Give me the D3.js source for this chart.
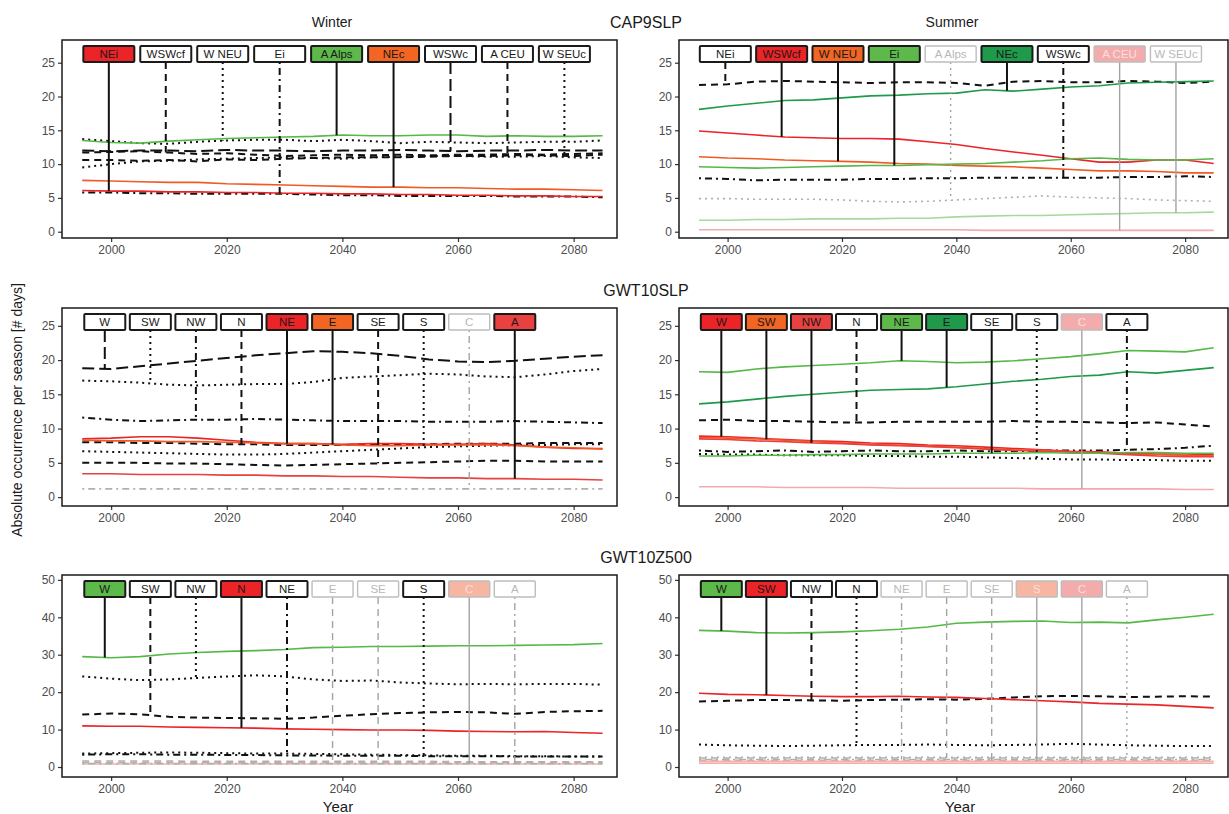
<!DOCTYPE html>
<html>
<head>
<meta charset="utf-8">
<script src="https://cdn.jsdelivr.net/npm/d3@7"></script>
<style>
  body { margin: 0; background: #fff; }
  svg text { font-family: "Liberation Sans", Arial, sans-serif; }
</style>
</head>
<body>
<svg width="1229" height="814"></svg>
<script>
// ---- data ----
const years = [1995, 2000, 2005, 2010, 2015, 2020, 2025, 2030, 2035, 2040, 2045, 2050, 2055, 2060, 2065, 2070, 2075, 2080, 2085];
const xTicks = [2000, 2020, 2040, 2060, 2080];
const yTicksSlp = [0, 5, 10, 15, 20, 25];
const yTicksZ500 = [0, 10, 20, 30, 40, 50];

const cap9Types = ['NEi', 'WSWcf', 'W NEU', 'Ei', 'A Alps', 'NEc', 'WSWc', 'A CEU', 'W SEUc'];
const gwtTypes = ['W', 'SW', 'NW', 'N', 'NE', 'E', 'SE', 'S', 'C', 'A'];

// CAP9SLP winter, one row per weather type
const cap9Winter = [
  [6.1, 6.0, 6.0, 5.9, 5.9, 5.8, 5.8, 5.7, 5.7, 5.6, 5.6, 5.5, 5.5, 5.4, 5.4, 5.3, 5.3, 5.2, 5.2],
  [11.7, 11.8, 11.9, 11.7, 11.5, 11.6, 11.4, 11.2, 11.3, 11.4, 11.3, 11.4, 11.3, 11.4, 11.4, 11.5, 11.4, 11.5, 11.6],
  [13.7, 13.4, 13.1, 13.0, 13.3, 13.5, 13.6, 13.6, 13.4, 13.6, 13.4, 13.1, 13.3, 13.2, 13.1, 13.2, 13.3, 13.3, 13.5],
  [5.8, 5.8, 5.7, 5.7, 5.6, 5.6, 5.6, 5.6, 5.5, 5.4, 5.4, 5.3, 5.3, 5.3, 5.3, 5.2, 5.2, 5.2, 5.1],
  [13.5, 13.2, 13.1, 13.4, 13.6, 13.8, 13.9, 14.0, 14.1, 14.3, 14.2, 14.2, 14.3, 14.3, 14.1, 14.2, 14.1, 14.1, 14.2],
  [7.6, 7.5, 7.4, 7.3, 7.3, 7.1, 7.0, 6.9, 6.8, 6.7, 6.6, 6.6, 6.5, 6.5, 6.4, 6.3, 6.3, 6.2, 6.1],
  [12.0, 11.9, 12.0, 12.0, 11.9, 12.1, 12.0, 12.0, 11.9, 12.0, 12.0, 12.1, 12.0, 11.9, 12.0, 12.0, 12.1, 12.0, 12.0],
  [10.6, 10.6, 10.5, 10.6, 10.4, 10.7, 10.6, 10.8, 10.9, 11.0, 11.0, 11.0, 11.1, 11.2, 11.2, 11.3, 11.3, 11.2, 11.4],
  [9.5, 10.0, 10.4, 10.5, 10.7, 10.8, 10.9, 11.0, 10.9, 10.8, 11.0, 11.1, 11.2, 11.2, 11.1, 11.1, 11.2, 11.0, 10.9]
];
const cap9Summer = [
  [21.7, 21.8, 22.2, 22.3, 22.2, 22.1, 22.0, 22.1, 22.1, 22.0, 21.6, 22.2, 22.3, 22.1, 22.1, 22.3, 22.2, 22.0, 22.2],
  [14.9, 14.6, 14.3, 14.0, 13.9, 13.8, 13.8, 13.7, 13.3, 12.9, 12.3, 11.8, 11.3, 10.8, 10.3, 10.3, 10.6, 10.6, 10.1],
  [11.1, 10.9, 10.8, 10.6, 10.5, 10.4, 10.3, 10.1, 10.0, 9.8, 9.7, 9.6, 9.4, 9.2, 9.0, 9.0, 8.9, 8.7, 8.7],
  [9.6, 9.5, 9.4, 9.5, 9.6, 9.7, 9.8, 9.8, 9.9, 10.0, 10.1, 10.3, 10.5, 10.8, 10.9, 10.7, 10.6, 10.6, 10.8],
  [4.9, 4.9, 4.8, 4.8, 4.8, 4.7, 4.5, 4.4, 4.5, 4.7, 4.9, 5.1, 5.3, 5.1, 5.0, 4.9, 4.7, 4.6, 4.5],
  [18.1, 18.6, 19.0, 19.4, 19.5, 19.8, 20.1, 20.2, 20.4, 20.5, 21.0, 20.8, 21.1, 21.4, 21.6, 22.0, 22.1, 22.2, 22.3],
  [7.9, 7.8, 7.6, 7.7, 7.7, 7.7, 7.8, 7.8, 7.9, 7.9, 8.0, 8.0, 8.0, 8.0, 8.0, 8.1, 8.1, 8.2, 8.1],
  [0.3, 0.3, 0.3, 0.3, 0.3, 0.3, 0.3, 0.3, 0.3, 0.3, 0.2, 0.2, 0.2, 0.2, 0.2, 0.2, 0.2, 0.2, 0.2],
  [1.7, 1.7, 1.8, 1.8, 1.9, 1.9, 1.9, 2.0, 2.0, 2.2, 2.3, 2.4, 2.4, 2.5, 2.6, 2.7, 2.8, 2.8, 2.9]
];
const gwtSlpWinter = [
  [18.8, 18.7, 19.1, 19.5, 19.9, 20.3, 20.7, 21.0, 21.3, 21.2, 21.0, 20.6, 20.1, 19.8, 19.7, 19.9, 20.2, 20.5, 20.7],
  [17.0, 16.9, 16.7, 16.4, 16.3, 16.4, 16.5, 16.5, 16.8, 17.4, 17.6, 17.8, 18.0, 17.9, 17.6, 17.5, 17.9, 18.4, 18.7],
  [11.6, 11.3, 11.1, 11.2, 11.3, 11.3, 11.4, 11.3, 11.2, 11.1, 11.1, 11.1, 11.0, 11.0, 11.0, 11.1, 11.0, 10.9, 10.8],
  [8.0, 8.0, 7.9, 7.9, 7.8, 7.7, 7.7, 7.6, 7.6, 7.6, 7.7, 7.7, 7.7, 7.8, 7.8, 7.8, 7.9, 7.9, 7.9],
  [8.5, 8.6, 8.8, 8.8, 8.6, 8.3, 8.0, 7.8, 7.8, 7.7, 7.8, 7.8, 7.7, 7.7, 7.8, 7.6, 7.3, 7.1, 7.1],
  [8.3, 8.2, 8.2, 8.1, 8.1, 8.0, 7.9, 7.8, 7.8, 7.6, 7.5, 7.5, 7.6, 7.6, 7.6, 7.5, 7.3, 7.2, 7.0],
  [5.0, 5.0, 5.0, 4.9, 4.9, 4.8, 4.7, 4.6, 4.7, 4.8, 4.9, 5.0, 5.1, 5.2, 5.3, 5.3, 5.2, 5.2, 5.2],
  [6.7, 6.6, 6.5, 6.4, 6.3, 6.2, 6.2, 6.3, 6.5, 6.7, 6.9, 7.1, 7.3, 7.4, 7.5, 7.6, 7.6, 7.7, 7.7],
  [1.2, 1.2, 1.2, 1.2, 1.2, 1.2, 1.2, 1.2, 1.2, 1.2, 1.2, 1.2, 1.2, 1.2, 1.2, 1.2, 1.2, 1.2, 1.2],
  [3.4, 3.4, 3.3, 3.3, 3.3, 3.2, 3.2, 3.1, 3.1, 3.0, 3.0, 2.9, 2.8, 2.8, 2.7, 2.7, 2.6, 2.6, 2.5]
];
const gwtSlpSummer = [
  [8.9, 8.8, 8.6, 8.4, 8.2, 8.1, 7.9, 7.8, 7.6, 7.5, 7.3, 7.1, 6.9, 6.7, 6.6, 6.4, 6.3, 6.3, 6.2],
  [8.7, 8.6, 8.5, 8.3, 8.1, 7.9, 7.7, 7.6, 7.4, 7.3, 7.1, 6.9, 6.8, 6.6, 6.5, 6.3, 6.2, 6.1, 6.0],
  [8.5, 8.4, 8.2, 8.1, 7.9, 7.8, 7.6, 7.5, 7.4, 7.2, 7.0, 6.8, 6.7, 6.6, 6.4, 6.2, 6.0, 5.9, 5.9],
  [11.2, 11.3, 11.1, 11.1, 11.0, 10.9, 10.9, 11.0, 11.0, 11.0, 11.0, 11.1, 11.0, 11.0, 10.9, 10.8, 10.9, 10.6, 10.3],
  [18.3, 18.2, 18.7, 19.0, 19.2, 19.4, 19.6, 19.9, 19.8, 19.6, 19.7, 19.9, 20.2, 20.5, 20.9, 21.4, 21.3, 21.2, 21.8],
  [13.6, 13.9, 14.3, 14.7, 15.0, 15.3, 15.6, 15.7, 15.8, 16.1, 16.5, 16.9, 17.2, 17.6, 17.8, 18.3, 18.1, 18.5, 18.9],
  [6.0, 6.0, 6.1, 6.1, 6.2, 6.2, 6.3, 6.3, 6.3, 6.4, 6.4, 6.4, 6.5, 6.4, 6.4, 6.5, 6.5, 6.4, 6.4],
  [6.3, 6.2, 6.2, 6.1, 6.1, 6.1, 6.0, 6.0, 5.9, 5.9, 5.8, 5.7, 5.6, 5.5, 5.5, 5.4, 5.4, 5.3, 5.3],
  [1.5, 1.5, 1.5, 1.4, 1.4, 1.4, 1.4, 1.3, 1.3, 1.3, 1.3, 1.3, 1.2, 1.2, 1.2, 1.2, 1.2, 1.1, 1.1],
  [6.8, 6.6, 6.7, 6.8, 6.6, 6.7, 6.8, 6.7, 6.7, 6.8, 6.7, 6.7, 6.8, 6.8, 6.8, 6.9, 7.0, 7.2, 7.5]
];
const gwtZ500Winter = [
  [29.5, 29.2, 29.5, 30.2, 30.6, 30.9, 31.1, 31.4, 31.9, 32.0, 32.2, 32.2, 32.3, 32.4, 32.4, 32.5, 32.6, 32.7, 33.0],
  [14.0, 14.3, 14.1, 13.4, 13.2, 13.1, 13.0, 12.9, 13.2, 13.7, 14.1, 14.4, 14.6, 14.7, 14.6, 14.2, 14.7, 14.9, 15.0],
  [24.2, 23.6, 23.2, 23.4, 23.8, 24.2, 24.5, 24.2, 23.4, 23.0, 23.1, 22.6, 22.3, 22.1, 22.2, 22.1, 22.2, 22.2, 22.0],
  [11.0, 10.9, 10.9, 10.7, 10.6, 10.5, 10.4, 10.2, 10.1, 10.0, 9.9, 9.9, 9.8, 9.6, 9.5, 9.4, 9.5, 9.2, 9.0],
  [3.3, 3.4, 3.4, 3.3, 3.3, 3.2, 3.2, 3.1, 3.1, 3.0, 3.0, 3.0, 2.9, 2.9, 2.9, 2.8, 2.8, 2.8, 2.8],
  [1.6, 1.6, 1.6, 1.6, 1.5, 1.5, 1.5, 1.5, 1.5, 1.5, 1.5, 1.5, 1.5, 1.4, 1.4, 1.4, 1.4, 1.4, 1.4],
  [1.2, 1.2, 1.2, 1.2, 1.2, 1.1, 1.1, 1.1, 1.1, 1.1, 1.1, 1.1, 1.1, 1.1, 1.1, 1.1, 1.1, 1.1, 1.1],
  [3.6, 3.7, 3.8, 3.9, 3.8, 3.7, 3.6, 3.6, 3.5, 3.4, 3.3, 3.2, 3.1, 3.0, 3.0, 2.9, 2.9, 2.8, 2.8],
  [0.8, 0.8, 0.8, 0.8, 0.8, 0.8, 0.8, 0.8, 0.8, 0.8, 0.8, 0.8, 0.8, 0.8, 0.8, 0.8, 0.8, 0.8, 0.8],
  [0.9, 0.9, 0.9, 0.9, 0.9, 0.9, 0.9, 0.9, 0.9, 0.9, 0.9, 0.9, 0.9, 0.9, 0.9, 0.9, 0.9, 0.9, 0.9]
];
const gwtZ500Summer = [
  [36.5, 36.3, 35.9, 35.8, 35.9, 36.1, 36.4, 36.8, 37.4, 38.4, 38.7, 38.9, 39.0, 38.6, 38.7, 38.5, 39.3, 40.0, 40.8],
  [19.7, 19.4, 19.3, 19.1, 18.9, 18.8, 18.8, 18.9, 18.7, 18.6, 18.3, 18.0, 17.7, 17.4, 17.0, 16.8, 16.6, 16.2, 15.8],
  [17.5, 17.7, 17.9, 17.9, 17.8, 17.7, 17.9, 18.0, 18.1, 18.0, 18.2, 18.6, 18.9, 19.0, 18.9, 18.7, 18.8, 18.9, 18.8],
  [6.0, 5.8, 5.7, 5.6, 5.7, 5.8, 5.9, 5.9, 6.0, 5.9, 5.8, 5.9, 6.0, 6.2, 6.0, 5.8, 5.7, 5.6, 5.6],
  [2.0, 2.0, 2.0, 2.0, 2.0, 2.0, 2.0, 2.0, 2.0, 2.0, 2.0, 2.0, 2.0, 2.0, 2.0, 2.0, 2.0, 2.0, 2.0],
  [2.4, 2.4, 2.4, 2.4, 2.4, 2.4, 2.4, 2.4, 2.4, 2.4, 2.4, 2.4, 2.4, 2.4, 2.4, 2.4, 2.4, 2.4, 2.4],
  [1.8, 1.8, 1.8, 1.8, 1.8, 1.8, 1.8, 1.8, 1.8, 1.8, 1.8, 1.8, 1.8, 1.8, 1.8, 1.8, 1.8, 1.8, 1.8],
  [1.5, 1.5, 1.5, 1.5, 1.5, 1.5, 1.5, 1.5, 1.5, 1.5, 1.5, 1.5, 1.5, 1.5, 1.5, 1.5, 1.5, 1.5, 1.5],
  [1.0, 1.0, 1.0, 1.0, 1.0, 1.0, 1.0, 1.0, 1.0, 1.0, 1.0, 1.0, 1.0, 1.0, 1.0, 1.0, 1.0, 1.0, 1.0],
  [2.6, 2.6, 2.6, 2.6, 2.6, 2.6, 2.6, 2.6, 2.6, 2.6, 2.6, 2.6, 2.6, 2.6, 2.6, 2.6, 2.6, 2.6, 2.6]
];

// ---- looks (one code per weather type, same order as the type lists) ----
const cap9WinterLook = ['red', 'dashed', 'dotted', 'dotdash', 'green', 'orange', 'longdash', 'dashed', 'dotted'];
const cap9SummerLook = ['dashed', 'red', 'orange', 'green', 'fDotted', 'dkgreen', 'dotdash', 'fPink', 'fLtGreen'];
const slpWinterLook = ['longdash', 'dotted', 'dotdash', 'dashed', 'red', 'orange', 'dashed', 'dotted', 'fDotdash', 'red2'];
const slpSummerLook = ['red', 'orange', 'red2', 'dashed', 'green', 'dkgreen', 'greenW', 'dotted', 'fPink', 'dotdash'];
const z500WinterLook = ['green', 'dashed', 'dotted', 'red', 'dotdash', 'fDashed', 'fDashed', 'dotted', 'fSalmon', 'fDotdash'];
const z500SummerLook = ['green', 'red', 'dashed', 'dotted', 'fDotdash', 'fDashed', 'fDashed', 'fSalmon', 'fPink', 'fDotted'];

const dashes = {
  solid: null, dashed: '7,5', longdash: '12,5', dotted: '2,4', dotdash: '2,4,7,4'
};
const looks = {
  red:      { line: '#ec2327', fill: '#ec2327', dash: 'solid', kind: 'colour' },
  red2:     { line: '#e8413f', fill: '#e8413f', dash: 'solid', kind: 'colour' },
  orange:   { line: '#f15a24', fill: '#f26522', dash: 'solid', kind: 'colour' },
  green:    { line: '#55b848', fill: '#5cb94a', dash: 'solid', kind: 'colour' },
  dkgreen:  { line: '#1f9a4b', fill: '#1f9a4b', dash: 'solid', kind: 'colour' },
  greenW:   { line: '#55b848', fill: '#ffffff', dash: 'solid', kind: 'colour' },
  dashed:   { line: '#111', fill: '#ffffff', dash: 'dashed', kind: 'black' },
  longdash: { line: '#111', fill: '#ffffff', dash: 'longdash', kind: 'black' },
  dotted:   { line: '#111', fill: '#ffffff', dash: 'dotted', kind: 'black' },
  dotdash:  { line: '#111', fill: '#ffffff', dash: 'dotdash', kind: 'black' },
  fDashed:  { line: '#b0b0b0', fill: '#ffffff', dash: 'dashed', kind: 'faded' },
  fDotted:  { line: '#b0b0b0', fill: '#ffffff', dash: 'dotted', kind: 'faded' },
  fDotdash: { line: '#b0b0b0', fill: '#ffffff', dash: 'dotdash', kind: 'faded' },
  fPink:    { line: '#f4a9aa', fill: '#f4abac', dash: 'solid', kind: 'faded' },
  fSalmon:  { line: '#f4b29e', fill: '#f6b6a2', dash: 'solid', kind: 'faded' },
  fLtGreen: { line: '#a7d99c', fill: '#ffffff', dash: 'solid', kind: 'faded' }
};

const svg = d3.select('svg');
const xDomain = [1991.5, 2087.5];
const cols = [[62, 617], [679, 1228]];

const render = (types, values, lookCodes, col, top, bottom, yDomain, yTicks) => {
  const [x0, x1] = cols[col];
  const xScale = d3.scaleLinear().domain(xDomain).range([x0, x1]);
  const yScale = d3.scaleLinear().domain(yDomain).range([bottom, top]);
  const g = svg.append('g');

  const xAxisG = g.append('g')
    .attr('transform', `translate(0,${bottom})`)
    .call(d3.axisBottom(xScale).tickValues(xTicks).tickFormat(d3.format('d')).tickSize(4).tickPadding(3));
  const yAxisG = g.append('g')
    .attr('transform', `translate(${x0},0)`)
    .call(d3.axisLeft(yScale).tickValues(yTicks).tickSize(4).tickPadding(3));
  [xAxisG, yAxisG].forEach(a => {
    a.select('.domain').remove();
    a.selectAll('line').attr('stroke', '#333').attr('stroke-width', 1.2);
    a.selectAll('text').attr('font-size', 12).attr('fill', '#4d4d4d');
  });

  const line = d3.line().x((d, i) => xScale(years[i])).y(d => yScale(d));
  const order = d3.range(types.length).sort((a, b) => {
    const rank = k => ({ faded: 0, black: 1, colour: 2 })[looks[lookCodes[k]].kind];
    return rank(a) - rank(b);
  });
  g.selectAll('path.series').data(order).enter().append('path')
    .attr('class', 'series')
    .attr('d', k => line(values[k]))
    .attr('fill', 'none')
    .attr('stroke', k => looks[lookCodes[k]].line)
    .attr('stroke-width', k => looks[lookCodes[k]].kind === 'black' ? 2 : 1.6)
    .attr('stroke-dasharray', k => dashes[looks[lookCodes[k]].dash]);

  // labels with connectors down to their series
  const n = types.length;
  const start = n === 9 ? 1999.6 : 1998.9;
  const step = n === 9 ? 9.85 : 7.88;
  const boxW = n === 9 ? 51 : 41;
  const boxTop = top + 6, boxH = 16;
  types.forEach((t, k) => {
    const L = looks[lookCodes[k]];
    const yr = start + k * step;
    const cx = xScale(yr);
    const v = d3.scaleLinear().domain(years).range(values[k])(yr);
    const faded = L.kind === 'faded';
    g.append('line')
      .attr('x1', cx).attr('x2', cx)
      .attr('y1', boxTop + boxH).attr('y2', yScale(v))
      .attr('stroke', faded ? '#a3a3a3' : '#111')
      .attr('stroke-width', faded ? 1.4 : 2)
      .attr('stroke-dasharray', L.kind === 'colour' ? null : dashes[L.dash]);
    g.append('rect')
      .attr('x', cx - boxW / 2).attr('y', boxTop)
      .attr('width', boxW).attr('height', boxH)
      .attr('rx', 1)
      .attr('fill', L.fill)
      .attr('stroke', faded ? '#bdbdbd' : '#1a1a1a')
      .attr('stroke-width', faded ? 1.4 : 2);
    g.append('text')
      .attr('x', cx).attr('y', boxTop + boxH / 2)
      .attr('dy', '0.36em')
      .attr('text-anchor', 'middle')
      .attr('font-size', 11.5)
      .attr('fill', faded ? (L.fill === '#ffffff' ? '#b8b8b8' : '#f8e0dc') : '#1a1a1a')
      .text(t);
  });

  g.append('rect')
    .attr('x', x0).attr('y', top)
    .attr('width', x1 - x0).attr('height', bottom - top)
    .attr('fill', 'none').attr('stroke', '#1a1a1a').attr('stroke-width', 1.5);
};

const rows = [
  { top: 40, bottom: 238, dom: [-0.93, 28.36], ticks: yTicksSlp, types: cap9Types, w: cap9Winter, s: cap9Summer, lw: cap9WinterLook, ls: cap9SummerLook },
  { top: 308, bottom: 506, dom: [-1.3, 27.6], ticks: yTicksSlp, types: gwtTypes, w: gwtSlpWinter, s: gwtSlpSummer, lw: slpWinterLook, ls: slpSummerLook },
  { top: 575, bottom: 777, dom: [-2.67, 51.3], ticks: yTicksZ500, types: gwtTypes, w: gwtZ500Winter, s: gwtZ500Summer, lw: z500WinterLook, ls: z500SummerLook }
];
rows.forEach(r => {
  render(r.types, r.w, r.lw, 0, r.top, r.bottom, r.dom, r.ticks);
  render(r.types, r.s, r.ls, 1, r.top, r.bottom, r.dom, r.ticks);
});

// titles
const titles = [
  { text: 'Winter', x: 332, y: 27, size: 14 },
  { text: 'Summer', x: 952, y: 27, size: 14 },
  { text: 'CAP9SLP', x: 646, y: 28, size: 16 },
  { text: 'GWT10SLP', x: 646, y: 296, size: 16 },
  { text: 'GWT10Z500', x: 646, y: 563, size: 16 },
  { text: 'Year', x: 338, y: 812, size: 15 },
  { text: 'Year', x: 960, y: 812, size: 15 }
];
svg.selectAll('text.title').data(titles).enter().append('text')
  .attr('class', 'title')
  .attr('x', d => d.x).attr('y', d => d.y)
  .attr('text-anchor', 'middle')
  .attr('font-size', d => d.size)
  .attr('fill', '#1a1a1a')
  .text(d => d.text);

svg.append('text')
  .attr('transform', 'translate(22,410) rotate(-90)')
  .attr('text-anchor', 'middle')
  .attr('font-size', 14)
  .attr('fill', '#1a1a1a')
  .text('Absolute occurrence per season [# days]');
</script>
</body>
</html>
